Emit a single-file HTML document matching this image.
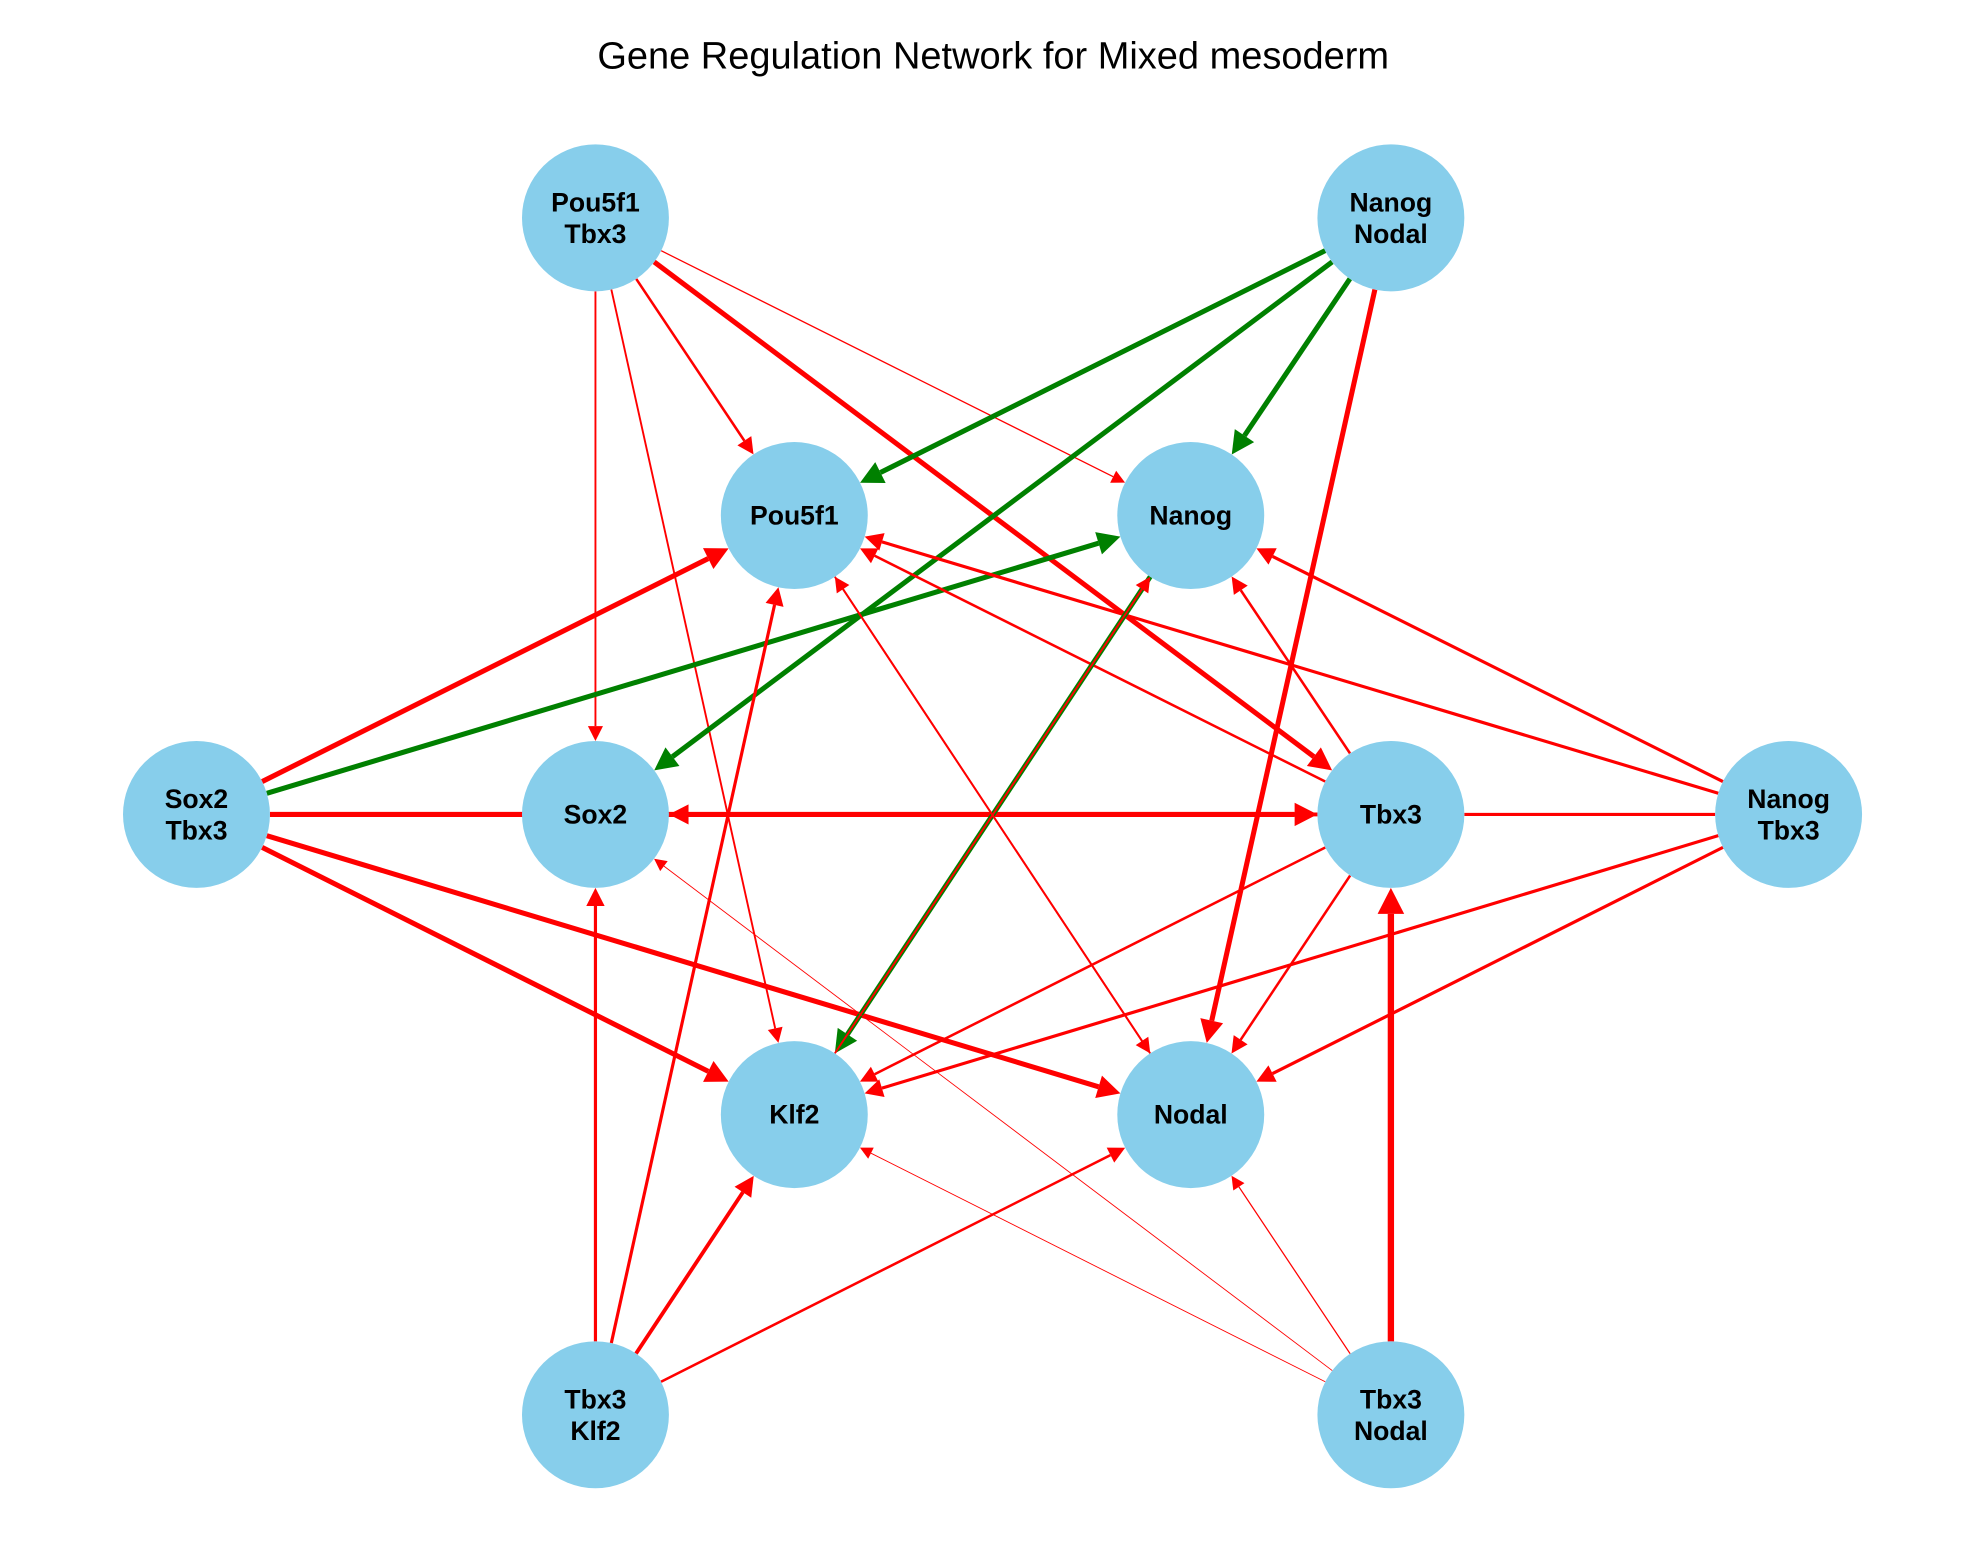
<!DOCTYPE html>
<html><head><meta charset="utf-8"><style>html,body{margin:0;padding:0;background:#fff}</style></head>
<body>
<svg id="s" width="1980" height="1563" viewBox="0 0 1563 1234" xmlns="http://www.w3.org/2000/svg">
<rect width="1563" height="1234" fill="#fff"/>
<text x="784" y="54" text-anchor="middle" font-family="Liberation Sans, DejaVu Sans, sans-serif" font-size="30">Gene Regulation Network for Mixed mesoderm</text>
<g id="e"></g><g id="n"></g>
</svg>
<script>
var N={A:[470,172,"Pou5f1","Tbx3"],B:[1098,172,"Nanog","Nodal"],P:[627,407,"Pou5f1"],G:[940,407,"Nanog"],
C:[155,643,"Sox2","Tbx3"],S:[470,643,"Sox2"],T:[1098,643,"Tbx3"],D:[1412,643,"Nanog","Tbx3"],
K:[627,880,"Klf2"],O:[940,880,"Nodal"],E:[470,1117,"Tbx3","Klf2"],F:[1098,1117,"Tbx3","Nodal"]};
var R="#ff0000",Gr="#008000";
var E=[["A","S",1.5,R],["A","P",2,R],["A","K",1.5,R],["A","G",1,R],["A","T",4,R],
["B","P",4,Gr],["B","S",4,Gr],["B","G",4,Gr],["B","O",4,R],
["C","P",4,R],["C","G",4,Gr],["C","T",4,R],["T","S",3,R],["D","T",2.5,R,1],["C","K",4,R],["C","O",4,R],
["T","G",2,R],["T","P",2,R],["T","K",2,R],["T","O",2,R],
["D","G",2.5,R],["D","P",2.5,R],["D","K",2.5,R],["D","O",2.5,R],
["G","K",4,Gr],["K","G",1.5,R],["O","P",1.5,R],["P","O",1.5,R],
["E","S",2.5,R],["E","P",2.5,R],["E","K",3,R],["E","O",2,R],
["F","T",5,R],["F","K",0.7,R],["F","S",0.7,R],["F","O",1,R]];
var r=58,h="";
E.forEach(function(x){var a=N[x[0]],b=N[x[1]],dx=b[0]-a[0],dy=b[1]-a[1],L=Math.hypot(dx,dy),ux=dx/L,uy=dy/L;
var w=x[2],hl=8+w*2.5,hw=4+w*1.3;
var sx=a[0]+ux*r,sy=a[1]+uy*r,tx=b[0]-ux*r,ty=b[1]-uy*r,bx=tx-ux*hl,by=ty-uy*hl;
if(x[4]){h+='<line x1="'+sx+'" y1="'+sy+'" x2="'+tx+'" y2="'+ty+'" stroke="'+x[3]+'" stroke-width="'+w+'"/>';return;}
h+='<line x1="'+sx+'" y1="'+sy+'" x2="'+bx+'" y2="'+by+'" stroke="'+x[3]+'" stroke-width="'+w+'"/>';
h+='<polygon points="'+tx+','+ty+' '+(bx-uy*hw)+','+(by+ux*hw)+' '+(bx+uy*hw)+','+(by-ux*hw)+'" fill="'+x[3]+'"/>';});
document.getElementById("e").innerHTML=h;
var g="";
for(var k in N){var n=N[k];g+='<circle cx="'+n[0]+'" cy="'+n[1]+'" r="'+r+'" fill="#87ceeb"/>';
var st='font-family="Liberation Sans, DejaVu Sans, sans-serif" font-size="21" font-weight="bold" text-anchor="middle"';
if(n.length==3)g+='<text x="'+n[0]+'" y="'+(n[1]+7)+'" '+st+'>'+n[2]+'</text>';
else g+='<text x="'+n[0]+'" y="'+(n[1]-5)+'" '+st+'>'+n[2]+'</text><text x="'+n[0]+'" y="'+(n[1]+20)+'" '+st+'>'+n[3]+'</text>';}
document.getElementById("n").innerHTML=g;
</script>
</body></html>
